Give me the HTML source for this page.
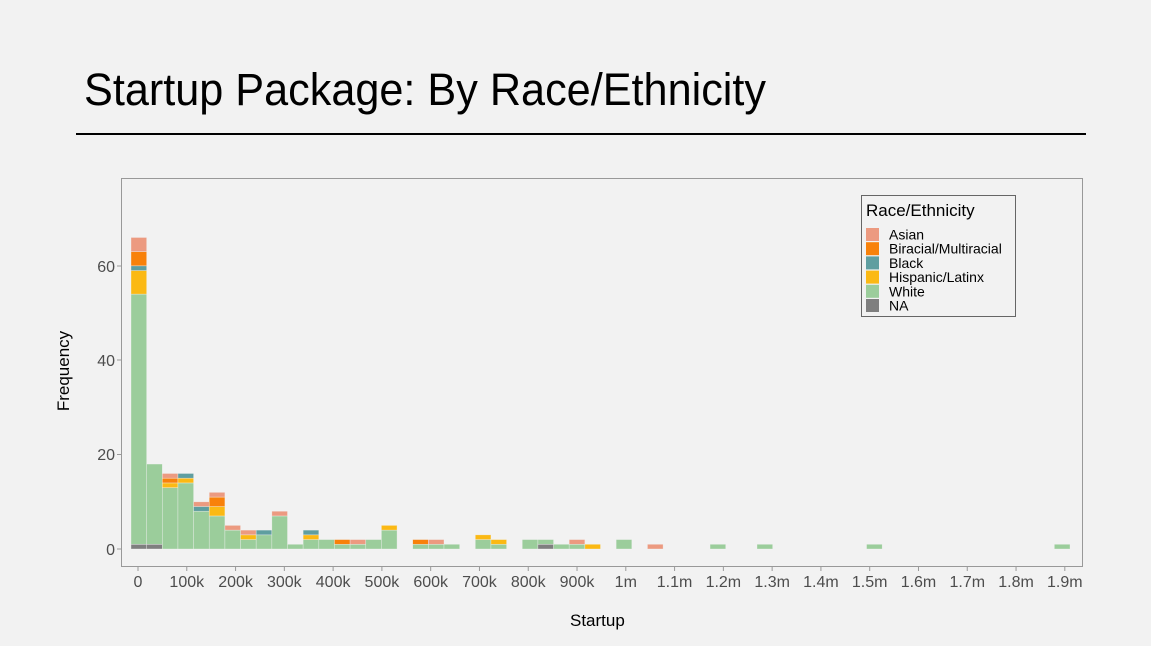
<!DOCTYPE html>
<html><head><meta charset="utf-8"><style>
html,body{margin:0;padding:0;background:#f2f2f2;}
svg{display:block;font-family:"Liberation Sans",sans-serif;}
</style></head><body>
<svg id="s" width="1151" height="646" xmlns="http://www.w3.org/2000/svg">
<rect width="1151" height="646" fill="#f2f2f2"/>
<text x="84" y="105" font-size="45" fill="#000" textLength="682" lengthAdjust="spacingAndGlyphs">Startup Package: By Race/Ethnicity</text>
<rect x="76" y="133" width="1010" height="2" fill="#000"/>
<rect x="121.5" y="178.5" width="961" height="388" fill="none" stroke="#999" stroke-width="1"/>
<g id="bars"></g>
<g font-size="16" fill="#4d4d4d" text-anchor="end">
<text x="115" y="555">0</text><text x="115" y="460">20</text><text x="115" y="366">40</text><text x="115" y="272">60</text>
</g>
<g stroke="#999"><line x1="117" x2="121" y1="549" y2="549"/><line x1="117" x2="121" y1="454.5" y2="454.5"/><line x1="117" x2="121" y1="360" y2="360"/><line x1="117" x2="121" y1="266" y2="266"/></g>
<g id="xt" font-size="16" fill="#4d4d4d" text-anchor="middle"></g>
<text x="570" y="626" font-size="17" fill="#000">Startup</text>
<text transform="translate(69,371) rotate(-90)" font-size="17" fill="#000" text-anchor="middle">Frequency</text>
<rect x="861.5" y="195.5" width="154" height="121" fill="#f2f2f2" stroke="#666"/>
<text x="866" y="216" font-size="17" fill="#000">Race/Ethnicity</text>
<g id="leg" font-size="14" fill="#000"></g>
</svg>
<script>
var C={A:"#ec9a80",B:"#f8810a",K:"#5f9ea0",H:"#fbb914",W:"#9bcd9b",N:"#7f7f7f"};
var order=["N","W","H","K","B","A"];
var bins={0:{N:1,W:53,H:5,K:1,B:3,A:3},1:{N:1,W:17},2:{W:13,H:1,B:1,A:1},3:{W:14,H:1,K:1},4:{W:8,K:1,A:1},5:{W:7,H:2,B:2,A:1},6:{W:4,A:1},7:{W:2,H:1,A:1},8:{W:3,K:1},9:{W:7,A:1},10:{W:1},11:{W:2,H:1,K:1},12:{W:2},13:{W:1,B:1},14:{W:1,A:1},15:{W:2},16:{W:4,H:1},18:{W:1,B:1},19:{W:1,A:1},20:{W:1},22:{W:2,H:1},23:{W:1,H:1},25:{W:2},26:{N:1,W:1},27:{W:1},28:{W:1,A:1},29:{H:1},31:{W:2},33:{A:1},37:{W:1},40:{W:1},47:{W:1},59:{W:1}};
var g=document.getElementById("bars"),h="",bw=15.65,u=4.72,y0=549;
for(var i in bins){var x=131+bw*i,c=0;order.forEach(function(k){var n=bins[i][k]||0;if(!n)return;var yt=y0-(c+n)*u;h+='<rect x="'+x.toFixed(2)+'" y="'+yt.toFixed(2)+'" width="'+bw+'" height="'+(n*u).toFixed(2)+'" fill="'+C[k]+'" stroke="#f2f2f2" stroke-opacity="0.6" stroke-width="0.6"/>';c+=n;});}
g.innerHTML=h;
var lab=["0","100k","200k","300k","400k","500k","600k","700k","800k","900k","1m","1.1m","1.2m","1.3m","1.4m","1.5m","1.6m","1.7m","1.8m","1.9m"],t="";
lab.forEach(function(l,i){var x=138+48.78*i;t+='<line x1="'+x+'" x2="'+x+'" y1="567" y2="571" stroke="#999"/><text x="'+x+'" y="587">'+l+'</text>';});
document.getElementById("xt").innerHTML=t;
var L=[["Asian","A"],["Biracial/Multiracial","B"],["Black","K"],["Hispanic/Latinx","H"],["White","W"],["NA","N"]],s="";
L.forEach(function(e,i){var y=228+14.2*i;s+='<rect x="866" y="'+y+'" width="13" height="13" fill="'+C[e[1]]+'"/><text x="889" y="'+(y+11.5)+'">'+e[0]+'</text>';});
document.getElementById("leg").innerHTML=s;
</script>
</body></html>
